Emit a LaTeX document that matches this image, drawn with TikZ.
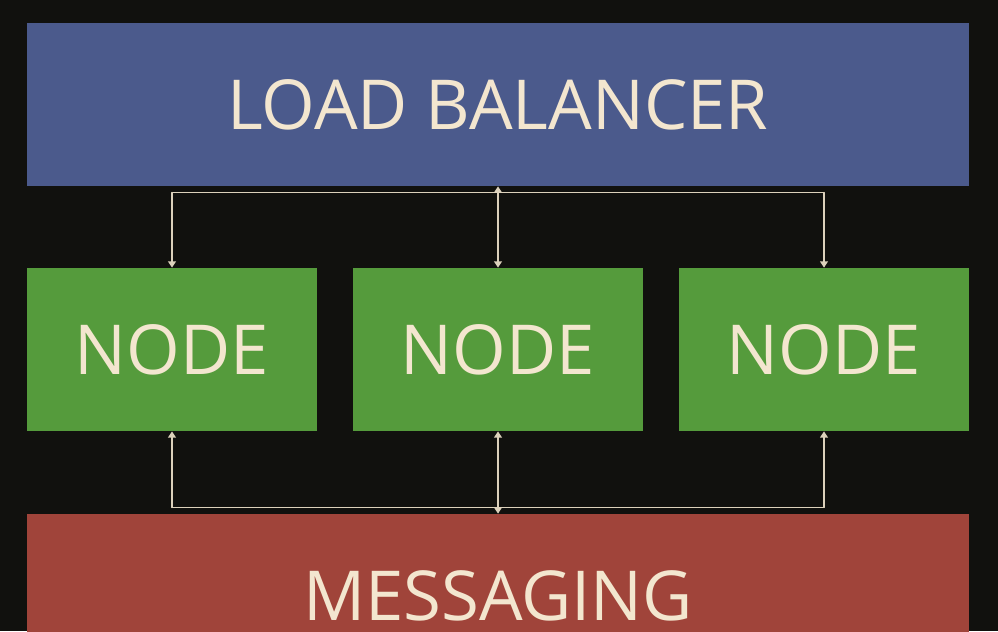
\documentclass[tikz,border=0pt]{standalone}
\usepackage{fontspec}
\setmainfont{Open Sans}
\usetikzlibrary{arrows.meta,calc}

\definecolor{bgdark}{HTML}{11110E}
\definecolor{lbblue}{HTML}{4B5A8C}
\definecolor{nodegreen}{HTML}{559B3C}
\definecolor{msgred}{HTML}{A0443A}
\definecolor{cream}{HTML}{F3E6CF}
\definecolor{wirecol}{HTML}{DCD1BB}

\begin{document}
\begin{tikzpicture}[
  x=0.025cm,
  y=-0.025cm,
  line cap=round,
  line join=round,
  block/.style={inner sep=0pt, text=cream,
    font=\fontsize{49}{59}\selectfont, minimum height=4.075cm},
  wide/.style={block, minimum width=23.55cm},
  server/.style={block, fill=nodegreen, minimum width=7.25cm},
  wire/.style={draw=wirecol, line width=1.1pt},
  tip/.style={-{Triangle[width=5.5pt,length=4.5pt]}},
  tips/.style={{Triangle[width=5.5pt,length=4.5pt]}-{Triangle[width=5.5pt,length=4.5pt]}}
]
  % Фон и рамка картинки
  \fill[bgdark] (0,0) rectangle (998,631);
  \useasboundingbox (0,0) rectangle (998,631);
  \clip (0,0) rectangle (998,631);

  % Балансировщик
  \node[wide, fill=lbblue] (lb) at (498,104.5) {LOAD BALANCER};

  % Узлы
  \node[server] (n1) at (172,349.5) {NODE};
  \node[server] (n2) at (498,349.5) {NODE};
  \node[server] (n3) at (824,349.5) {NODE};

  % Обмен сообщениями
  \node[wide, fill=msgred] (msg) at (498,595.5) {MESSAGING};

  % Шины между уровнями
  \coordinate (upL) at ($(n1.north)+(0,-75)$);
  \coordinate (upR) at ($(n3.north)+(0,-75)$);
  \coordinate (dnL) at ($(n1.south)+(0,76)$);
  \coordinate (dnR) at ($(n3.south)+(0,76)$);

  % Верхние связи
  \draw[wire] (upL) -- (upR);
  \draw[wire, tip] (upL) -- (n1.north);
  \draw[wire, tip] (upR) -- (n3.north);
  \draw[wire, tips] (lb.south) -- (n2.north);

  % Нижние связи
  \draw[wire] (dnL) -- (dnR);
  \draw[wire, tip] (dnL) -- (n1.south);
  \draw[wire, tip] (dnR) -- (n3.south);
  \draw[wire, tips] (n2.south) -- (msg.north);
\end{tikzpicture}
\end{document}
